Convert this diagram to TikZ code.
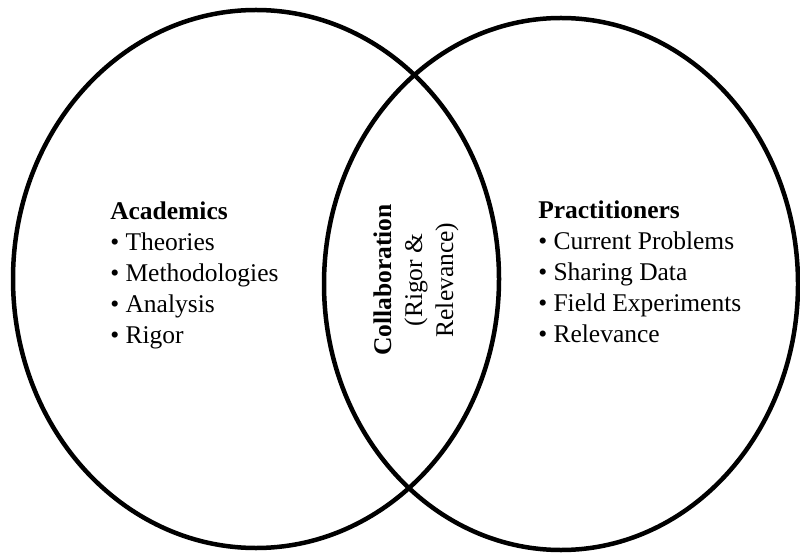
\documentclass[tikz,border=0pt]{standalone}
\usepackage{fontspec}
\setmainfont{Liberation Serif}
\usepackage{tikz}

\begin{document}
\begin{tikzpicture}[x=1pt,y=-1pt,line width=4.5pt]
  \tikzstyle{set}=[draw=black]
  \tikzstyle{every node}=[inner sep=0pt,font=\fontsize{25.5}{31}\selectfont]
  \tikzstyle{list}=[anchor=north west,align=left]

  \useasboundingbox (0,0) rectangle (800,553);

  % the two sets
  \draw[set] (256,279) ellipse [x radius=243, y radius=269];
  \draw[set] (561,284) ellipse [x radius=237, y radius=266];

  \node[list] (acad) at (108,200)
       {\textbf{Academics}\\
        \textbullet\ Theories\\
        \textbullet\ Methodologies\\
        \textbullet\ Analysis\\
        \textbullet\ Rigor};
  \node[list] (prac) at (536,199)
       {\textbf{Practitioners}\\
        \textbullet\ Current Problems\\
        \textbullet\ Sharing Data\\
        \textbullet\ Field Experiments\\
        \textbullet\ Relevance};

  % overlap
  \node[rotate=90,align=center] (collab) at (416,280)
       {\textbf{Collaboration}\\(Rigor \&\\Relevance)};
\end{tikzpicture}
\end{document}
